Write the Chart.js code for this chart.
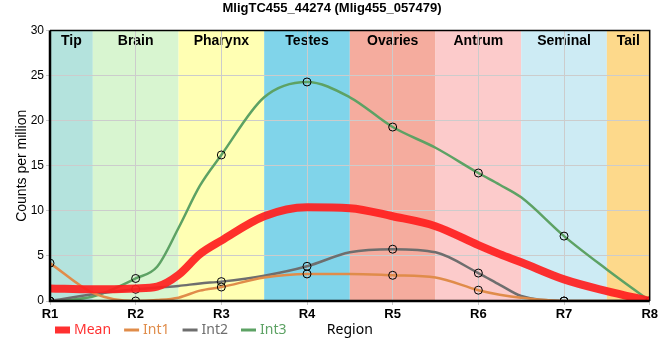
<!DOCTYPE html>
<html>
<head>
<meta charset="utf-8">
<script src="https://cdn.jsdelivr.net/npm/chart.js@4"></script>
<style>
  body { margin: 0; background: #fff; }
  canvas { display: block; }
</style>
</head>
<body>
<canvas id="chart1" width="660" height="360"></canvas>
<script>
// positions along the body (R1..R8, with extra steps)
var xPos  = [1, 1.5, 2, 2.25, 2.5, 2.75, 3, 3.5, 4, 4.5, 5, 5.5, 6, 6.25, 6.5, 7, 7.5, 8]

var meanVals = [1.4, 1.3, 1.4, 1.6, 2.9, 5.2, 6.7, 9.4, 10.4, 10.3, 9.4, 8.3, 6.2, 5.2, 4.3, 2.4, 1.1, 0]
var int1Vals = [4.2, 0.9, 0, 0.1, 0.37, 1.15, 1.55, 2.6, 3.0, 3.0, 2.85, 2.6, 1.2, 0.7, 0.35, 0, 0, 0]
var int2Vals = [0, 0.75, 1.3, 1.5, 1.67, 1.95, 2.15, 2.8, 3.85, 5.4, 5.75, 5.4, 3.1, 1.8, 0.55, 0, 0, 0]
var int3Vals = [0, 0.5, 2.5, 3.8, 8.1, 12.8, 16.2, 22.6, 24.3, 22.6, 19.3, 17.0, 14.2, 12.9, 11.5, 7.2, 3.5, 0]

var regionNames  = ["Tip", "Brain", "Pharynx", "Testes", "Ovaries", "Antrum", "Seminal", "Tail"]
var regionStart  = [1, 1.5, 2.5, 3.5, 4.5, 5.5, 6.5, 7.5]
var regionEnd    = [1.5, 2.5, 3.5, 4.5, 5.5, 6.5, 7.5, 8]
var regionColors = ["#b4e3dd", "#d8f5d0", "#ffffb3", "#80d4ea", "#f5ac9e", "#fccbcb", "#cdebf4", "#fdd98b"]

function toPoints(vals) {
  var pts = []
  for (var i = 0; i < vals.length; i++) {
    pts.push({ x: xPos[i], y: vals[i] })
  }
  return pts
}

function markerRadius(ctx) {
  var p = ctx.raw
  return (p && Number.isInteger(p.x)) ? 4 : 0
}

function series(label, vals, color, width, markers) {
  return {
    label: label,
    data: toPoints(vals),
    borderColor: color,
    backgroundColor: color,
    borderWidth: width,
    cubicInterpolationMode: 'monotone',
    pointRadius: markers ? markerRadius : 0,
    pointBackgroundColor: 'rgba(0,0,0,0)',
    pointBorderColor: '#000',
    pointBorderWidth: 1
  }
}

const bandsPlugin = {
  id: 'bands',
  beforeDraw: function(chart) {
    const ctx = chart.ctx
    const area = chart.chartArea
    const xs = chart.scales.x
    ctx.save()
    for (var i = 0; i < regionNames.length; i++) {
      var x0 = xs.getPixelForValue(regionStart[i])
      var x1 = xs.getPixelForValue(regionEnd[i])
      ctx.fillStyle = regionColors[i]
      ctx.fillRect(x0, area.top, x1 - x0, area.bottom - area.top)
    }
    ctx.font = 'bold 14px "Liberation Sans", Arial, sans-serif'
    ctx.fillStyle = '#000'
    ctx.textAlign = 'center'
    ctx.textBaseline = 'middle'
    for (var i = 0; i < regionNames.length; i++) {
      var xc = (xs.getPixelForValue(regionStart[i]) + xs.getPixelForValue(regionEnd[i])) / 2
      ctx.fillText(regionNames[i], xc, area.top + 11)
    }
    ctx.restore()
  },
  afterDraw: function(chart) {
    const ctx = chart.ctx
    const area = chart.chartArea
    ctx.save()
    // frame
    ctx.strokeStyle = '#000'
    ctx.lineWidth = 1.5
    ctx.beginPath()
    ctx.moveTo(area.left, area.top)
    ctx.lineTo(area.right, area.top)
    ctx.lineTo(area.right, area.bottom)
    ctx.stroke()
    ctx.lineWidth = 2.5
    ctx.beginPath()
    ctx.moveTo(area.left, area.top)
    ctx.lineTo(area.left, area.bottom)
    ctx.lineTo(area.right, area.bottom)
    ctx.stroke()

    // legend, drawn by hand so it sits on the same row as the axis title
    ctx.font = '14px "Noto Sans", "Liberation Sans", sans-serif'
    ctx.textBaseline = 'middle'
    ctx.textAlign = 'left'
    var lx = 55
    var ly = 330
    chart.data.datasets.forEach(function(ds, i) {
      ctx.fillStyle = ds.borderColor
      ctx.strokeStyle = ds.borderColor
      if (i == 0) {
        ctx.fillRect(lx, ly - 3.5, 15, 7)
      } else {
        ctx.lineWidth = 3
        ctx.beginPath()
        ctx.moveTo(lx, ly)
        ctx.lineTo(lx + 15, ly)
        ctx.stroke()
      }
      ctx.fillText(ds.label, lx + 19, ly)
      lx += 19 + ctx.measureText(ds.label).width + 13
    })

    ctx.fillStyle = '#000'
    ctx.textAlign = 'center'
    ctx.fillText('Region', (area.left + area.right) / 2, ly)
    ctx.restore()
  }
}

const data = {
  datasets: [
    series('Mean', meanVals, 'rgba(255,30,30,0.92)', 8, false),
    series('Int1', int1Vals, '#e08c4a', 2.5, true),
    series('Int2', int2Vals, '#6e6e6e', 2.5, true),
    series('Int3', int3Vals, '#5da264', 2.5, true)
  ]
}

const config = {
  type: 'line',
  data: data,
  plugins: [bandsPlugin],
  options: {
    responsive: false,
    animation: false,
    layout: { padding: { left: 14, right: 10, top: 0, bottom: 0 } },
    plugins: {
      legend: { display: false },
      tooltip: { enabled: false },
      title: {
        display: true,
        text: 'MligTC455_44274 (Mlig455_057479)',
        color: '#000',
        font: { family: '"Liberation Sans", Arial, sans-serif', size: 13, weight: 'bold' },
        padding: { top: 1, bottom: 14 }
      }
    },
    scales: {
      x: {
        type: 'linear',
        min: 1,
        max: 8,
        afterFit: function(scale) { scale.height = 59 },
        ticks: {
          stepSize: 1,
          color: '#000',
          padding: 2,
          font: { family: '"Liberation Sans", Arial, sans-serif', size: 13, weight: 'bold' },
          callback: function(v) { return 'R' + v }
        },
        grid: { color: '#cccccc', tickLength: 4 },
        border: { display: false }
      },
      y: {
        min: 0,
        max: 30,
        afterFit: function(scale) { scale.width = 36 },
        ticks: {
          stepSize: 5,
          color: '#000',
          padding: 2,
          font: { family: '"Liberation Sans", Arial, sans-serif', size: 12 }
        },
        title: {
          display: true,
          text: 'Counts per million',
          color: '#000',
          padding: 0,
          font: { family: '"Liberation Sans", Arial, sans-serif', size: 14 }
        },
        grid: { color: '#cccccc', tickLength: 4 },
        border: { display: false }
      }
    }
  }
}

const myChart = new Chart(document.getElementById('chart1').getContext('2d'), config)
</script>
</body>
</html>
